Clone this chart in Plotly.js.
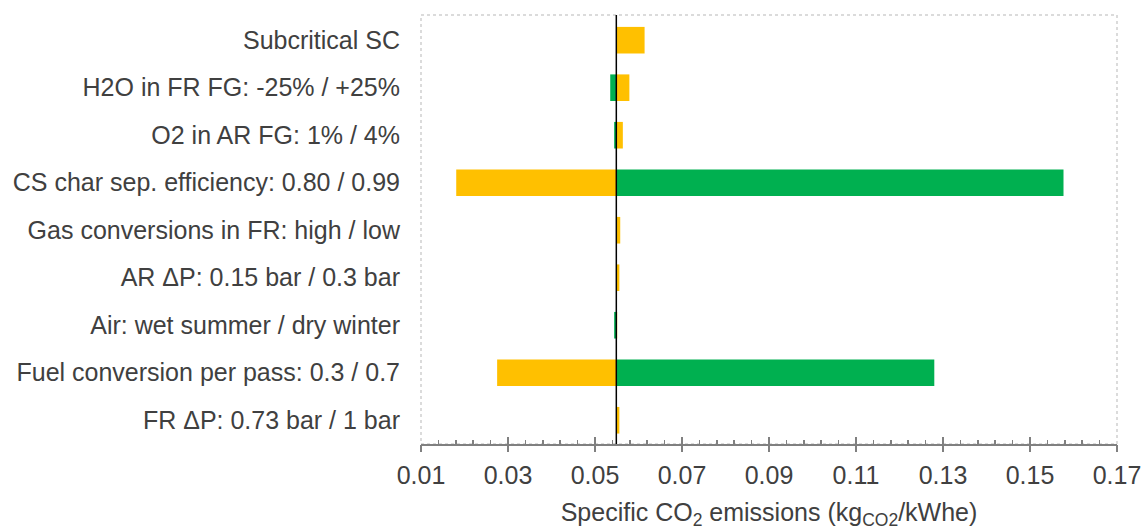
<!DOCTYPE html>
<html>
<head>
<meta charset="utf-8">
<script src="https://cdn.plot.ly/plotly-3.0.1.min.js"></script>
<style>html,body{margin:0;padding:0;background:#fff}#chart{width:1148px;height:530px}</style>
</head>
<body>
<div id="chart"></div>
<script>
// Sensitivity (tornado) data, specific CO2 emissions in kg/kWhe
const baseValue = 0.0549;
const categories = [
  "Subcritical SC",
  "H2O in FR FG: -25% / +25%",
  "O2 in AR FG: 1% / 4%",
  "CS char sep. efficiency: 0.80 / 0.99",
  "Gas conversions in FR: high / low",
  "AR \u0394P: 0.15 bar / 0.3 bar",
  "Air: wet summer / dry winter",
  "Fuel conversion per pass: 0.3 / 0.7",
  "FR \u0394P: 0.73 bar / 1 bar"
];
// value reached by the first (orange) and second (green) case of each parameter
const orangeValues = [0.0614, 0.0579, 0.0564, 0.0181, 0.0558, 0.0556, 0.0551, 0.0275, 0.0556];
const greenValues  = [0.0549, 0.0535, 0.0544, 0.1577, 0.0549, 0.0549, 0.0544, 0.1280, 0.0549];
const tickVals = [0.01, 0.03, 0.05, 0.07, 0.09, 0.11, 0.13, 0.15, 0.17];
const tickText = ["0.01", "0.03", "0.05", "0.07", "0.09", "0.11", "0.13", "0.15", "0.17"];

const txtColor = "#404040";
const fontFam = "Arial, 'Liberation Sans', sans-serif";

const orange = {
  type: "bar", orientation: "h", y: categories,
  x: orangeValues.map(v => v - baseValue), base: baseValue,
  marker: {color: "#FFC000", line: {width: 0}}, hoverinfo: "skip", showlegend: false
};
const green = {
  type: "bar", orientation: "h", y: categories,
  x: greenValues.map(v => v - baseValue), base: baseValue,
  marker: {color: "#00B050", line: {width: 0}}, hoverinfo: "skip", showlegend: false
};
const dummy = {type: "scatter", x: [tickVals[0]], y: [categories[0]], xaxis: "x2", mode: "markers",
  marker: {opacity: 0}, hoverinfo: "skip", showlegend: false};

const layout = {
  width: 1148, height: 530,
  margin: {l: 421, r: 31, t: 15, b: 86},
  paper_bgcolor: "#ffffff", plot_bgcolor: "#ffffff",
  barmode: "overlay", bargap: 0.44,
  font: {family: fontFam, color: txtColor, size: 25},
  xaxis: {
    range: [0.01, 0.17], tickvals: tickVals, ticktext: tickText,
    ticks: "inside", ticklen: 7, tickwidth: 1.5, tickcolor: "#808080",
    showline: true, linecolor: "#808080", linewidth: 2,
    showgrid: false, zeroline: false,
    ticklabelstandoff: 8,
    tickfont: {size: 25, color: txtColor, family: fontFam},
    minor: {dtick: 0.004, tick0: 0.01, ticks: "inside", ticklen: 4, tickwidth: 1.5, tickcolor: "#808080", showgrid: false},
    title: {text: "Specific CO<sub>2</sub> emissions (kg<sub>CO2</sub>/kWhe)", font: {size: 25, color: txtColor, family: fontFam}, standoff: 18},
    fixedrange: true
  },
  xaxis2: {
    overlaying: "x", anchor: "y", side: "bottom", range: [0.01, 0.17],
    tickvals: tickVals, ticks: "outside", ticklen: 7, tickwidth: 1.5, tickcolor: "#808080",
    showticklabels: false, showline: false, showgrid: false, zeroline: false
  },
  yaxis: {
    type: "category", autorange: "reversed",
    showline: false, showgrid: false, zeroline: false, ticks: "",
    ticklabelstandoff: 20,
    tickfont: {size: 25, color: txtColor, family: fontFam},
    fixedrange: true
  },
  shapes: [
    {type: "rect", xref: "paper", yref: "paper", x0: 0, x1: 1, y0: 0, y1: 1,
     line: {color: "#d0d0d0", width: 1.5, dash: "dot"}, layer: "below"},
    {type: "line", xref: "x", yref: "paper", x0: baseValue, x1: baseValue, y0: 0, y1: 1,
     line: {color: "#000000", width: 1.5}, layer: "above"}
  ]
};

Plotly.newPlot("chart", [orange, green, dummy], layout, {displayModeBar: false, staticPlot: true});
</script>
</body>
</html>
